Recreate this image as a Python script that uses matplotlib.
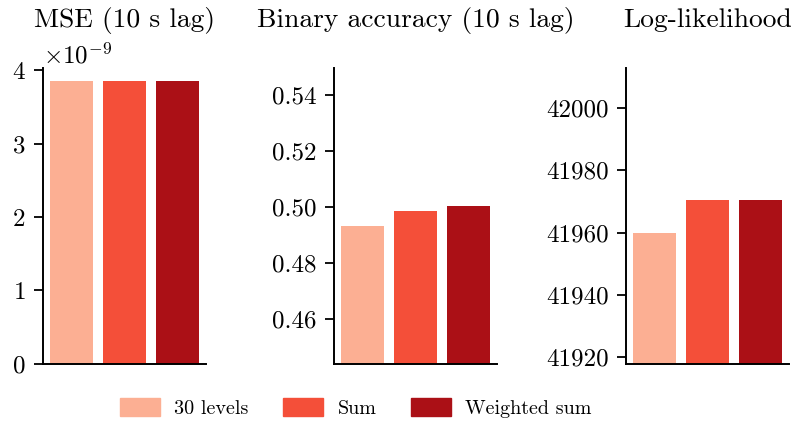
import matplotlib
matplotlib.use("Agg")
import matplotlib.pyplot as plt
import numpy as np

plt.rcParams['font.family'] = ['cmr10', 'DejaVu Serif']
plt.rcParams['mathtext.fontset'] = 'cm'
plt.rcParams['axes.formatter.use_mathtext'] = True
plt.rcParams['axes.unicode_minus'] = False

methods = ["30 levels", "Sum", "Weighted sum"]
colors = ["#fcaf93", "#f44f39", "#ab1016"]

titles = ["MSE (10 s lag)", "Binary accuracy (10 s lag)", "Log-likelihood"]
mse = [3.85e-9, 3.86e-9, 3.86e-9]
acc = [0.4931, 0.4984, 0.5002]
loglik = [41960.0, 41970.6, 41970.6]
values = [mse, acc, loglik]

acc_ticks = [0.46, 0.48, 0.50, 0.52, 0.54]
ll_ticks = [41920, 41940, 41960, 41980, 42000]

fig = plt.figure(figsize=(7.96, 4.25), dpi=100)
lefts = [43/796, 334/796, 626/796]
bottom = 1 - 363.5/425
height = 296/425
width = 163/796

axes = []
x = np.arange(len(methods))
for i, (vals, title) in enumerate(zip(values, titles)):
    ax = fig.add_axes([lefts[i], bottom, width, height])
    ax.bar(x, vals, width=0.8, color=colors)
    fig.text(lefts[i] + width / 2, 1 - 20/425, title, fontsize=19.8,
             ha='center', va='center')
    ax.spines['top'].set_visible(False)
    ax.spines['right'].set_visible(False)
    for s in ['left', 'bottom']:
        ax.spines[s].set_linewidth(1.4)
    ax.set_xticks([])
    ax.tick_params(axis='y', labelsize=18, length=6.5, width=1.3, pad=6)
    axes.append(ax)

axes[0].set_ylim(0, 4.04e-9)
axes[0].set_yticks([0, 1e-9, 2e-9, 3e-9, 4e-9])
axes[0].yaxis.get_offset_text().set_fontsize(18)
axes[1].set_ylim(0.4439, 0.550)
axes[1].set_yticks(acc_ticks)
axes[1].set_yticklabels([f"{t:.2f}" for t in acc_ticks])
axes[2].set_ylim(41918, 42013)
axes[2].set_yticks(ll_ticks)
axes[2].set_yticklabels([str(t) for t in ll_ticks])

handles = [plt.Rectangle((0, 0), 1, 1, color=c) for c in colors]
fig.legend(handles, methods, loc='center left', bbox_to_anchor=(110/796, 1 - 408/425),
           ncol=3, frameon=False, fontsize=14.5, handlelength=2.0, handleheight=0.95,
           columnspacing=1.7, handletextpad=0.7, borderpad=0.0)

fig.savefig("out.png", dpi=100)
